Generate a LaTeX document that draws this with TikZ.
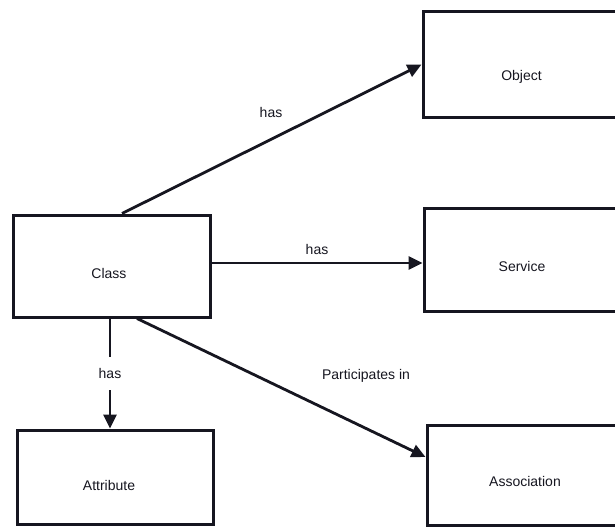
\documentclass[tikz,border=0pt]{standalone}
\usepackage{fontspec}
\setmainfont{Liberation Sans}
\usetikzlibrary{arrows.meta,calc}
\definecolor{ink}{RGB}{22,22,32}
\begin{document}
\begin{tikzpicture}[x=1pt,y=-1pt,
  font=\fontsize{14}{16}\selectfont,
  box/.style={draw=ink, line width=3pt, rectangle, inner sep=0pt},
  conn/.style={draw=ink, line width=2.8pt, -{Triangle[length=14pt,width=13pt]}},
  txt/.style={anchor=base, inner sep=0pt, text=ink}]
\clip (0,0) rectangle (615,527);
\fill[white] (0,0) rectangle (615,527);
% boxes
\node[box, minimum width=197pt, minimum height=102pt] (class) at (111.5,266) {};
\node[box, minimum width=207pt, minimum height=105pt] (object) at (526.5,64.5) {};
\node[box, minimum width=206pt, minimum height=103pt] (service) at (527,259.5) {};
\node[box, minimum width=203pt, minimum height=100pt] (association) at (528.5,475) {};
\node[box, minimum width=196pt, minimum height=94pt] (attribute) at (115,477) {};
% box texts
\node[txt] (classt) at (109,278) {Class};
\node[txt] (objectt) at (521.5,80) {Object};
\node[txt] (servicet) at (522,271) {Service};
\node[txt] (associationt) at (525,486) {Association};
\node[txt] (attributet) at (109,490) {Attribute};
% connectors
\draw[conn] ([xshift=10.5pt]class.north) -- (object.west);
\draw[conn] ([yshift=3pt]class.east) -- ([yshift=3pt]class.east -| service.west);
\draw[conn] ([xshift=-1.5pt]class.south) -- ([xshift=-1.5pt]class.south |- attribute.north)
  node[midway, fill=white, inner xsep=2pt, inner ysep=11.5pt, text=ink] (hasattr) {has};
\draw[conn] ([xshift=25.5pt]class.south) -- ([yshift=18pt]association.west);
% connector labels
\node[txt] (hasobj) at (271,117) {has};
\node[txt] (hasserv) at (317,254) {has};
\node[txt] (part) at (366,379) {Participates in};
\end{tikzpicture}
\end{document}
